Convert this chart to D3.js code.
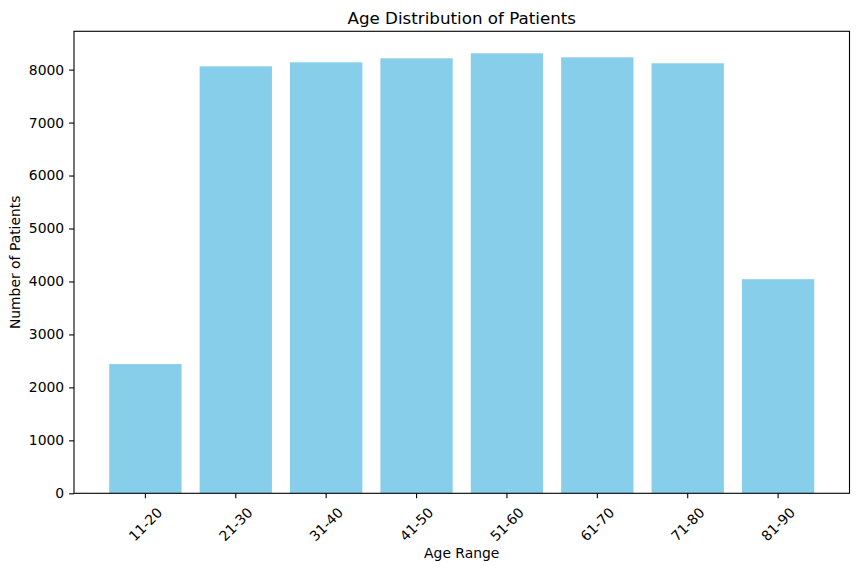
<!DOCTYPE html>
<html><head><meta charset="utf-8">
<script src="https://cdn.jsdelivr.net/npm/d3@7"></script>
<style>body{margin:0;background:#fff}svg{display:block}text{font-family:"DejaVu Sans",sans-serif;fill:#000}</style>
</head><body>
<script>
const categories = ["11-20","21-30","31-40","41-50","51-60","61-70","71-80","81-90"];
const patients = [2440, 8062, 8138, 8213, 8308, 8232, 8119, 4043];
const yTicks = [0,1000,2000,3000,4000,5000,6000,7000,8000];

const W = 859, H = 571;
const m = {left:74, right:859-849.5, top:31.3, bottom:571-493.3};
const svg = d3.select("body").append("svg").attr("width", W).attr("height", H);
const x = d3.scaleBand().domain(categories).range([m.left, W-m.right]).paddingInner(0.2).paddingOuter(0.39);
const ymax = d3.max(patients)*1.05;
const y = d3.scaleLinear().domain([0, ymax]).range([H-m.bottom, m.top]);

svg.append("g").selectAll("rect").data(categories).join("rect")
  .attr("x", d=>x(d)).attr("width", x.bandwidth())
  .attr("y", (d,i)=>y(patients[i])).attr("height", (d,i)=>y(0)-y(patients[i]))
  .attr("fill", "#87ceeb");

// y axis
const ya = svg.append("g").attr("transform", `translate(${m.left},0)`)
  .call(d3.axisLeft(y).tickValues(yTicks).tickSize(4.9).tickPadding(4.9).tickFormat(d3.format("d")));
ya.select(".domain").remove();
ya.selectAll("text").style("font-size","13.9px").style("font-family","DejaVu Sans");
ya.selectAll("line").attr("stroke","#000").attr("stroke-width",1.1);

// x axis
const xa = svg.append("g").attr("transform", `translate(0,${H-m.bottom})`)
  .call(d3.axisBottom(x).tickSize(4.9).tickFormat(""));
xa.select(".domain").remove();
xa.selectAll("line").attr("stroke","#000").attr("stroke-width",1.1);
svg.append("g").selectAll("text").data(categories).join("text")
  .attr("transform", d=>`translate(${x(d)+x.bandwidth()/2},${H-m.bottom+31}) rotate(-45)`)
  .attr("text-anchor","middle").attr("dominant-baseline","central")
  .style("font-size","13.9px").text(d=>d);

// frame
svg.append("rect").attr("x", m.left).attr("y", m.top)
  .attr("width", W-m.right-m.left).attr("height", H-m.bottom-m.top)
  .attr("fill","none").attr("stroke","#000").attr("stroke-width",1.1);

svg.append("text").attr("x",(m.left+W-m.right)/2).attr("y",23.5).attr("text-anchor","middle")
  .style("font-size","16.7px").text("Age Distribution of Patients");
svg.append("text").attr("x",(m.left+W-m.right)/2).attr("y",558).attr("text-anchor","middle")
  .style("font-size","13.9px").text("Age Range");
svg.append("text").attr("transform",`translate(20,${(m.top+H-m.bottom)/2}) rotate(-90)`).attr("text-anchor","middle")
  .style("font-size","13.9px").text("Number of Patients");
</script>
</body></html>
